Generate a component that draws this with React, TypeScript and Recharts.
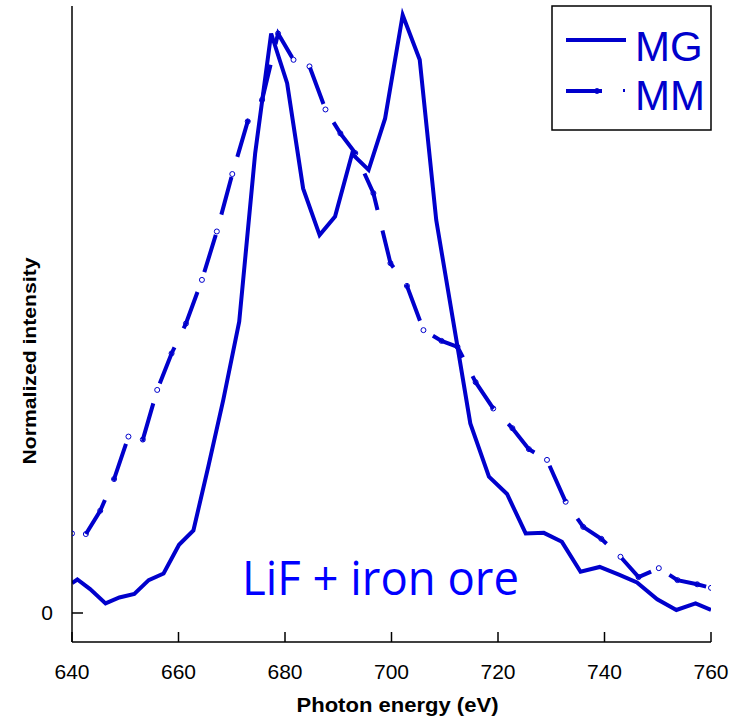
import React from 'react';
import { LineChart, Line, XAxis, YAxis, Legend } from 'recharts';

// photon energy (eV) and normalized intensity
const mgEnergy = [640, 641, 643.4, 646.3, 648.9, 651.7, 654.4, 657.2, 660.1, 662.8, 665.6, 668.4, 671.4, 674.4, 677.4, 680.4, 683.4, 686.5, 689.4, 692.6, 695.7, 698.8, 702.1, 705.3, 708.4, 712.4, 714.8, 718.3, 721.7, 725.2, 728.6, 732.0, 735.5, 739.1, 742.7, 746.1, 749.9, 753.5, 757.1, 760];
const mgIntensity = [0.05, 0.056, 0.04, 0.016, 0.026, 0.032, 0.055, 0.066, 0.114, 0.138, 0.245, 0.356, 0.487, 0.769, 0.969, 0.886, 0.71, 0.632, 0.663, 0.768, 0.741, 0.827, 1.0, 0.925, 0.657, 0.445, 0.317, 0.228, 0.199, 0.133, 0.134, 0.119, 0.069, 0.077, 0.064, 0.051, 0.023, 0.005, 0.016, 0.005];

const mmEnergy = [640, 642.6, 645.3, 647.9, 650.6, 653.3, 656.0, 658.7, 661.4, 664.4, 667.2, 670.1, 673.0, 675.7, 678.7, 681.6, 684.6, 687.6, 690.4, 693.2, 696.6, 699.8, 702.9, 706.0, 709.4, 712.4, 715.8, 719.1, 722.7, 725.8, 729.2, 732.7, 736.0, 739.4, 743.0, 746.4, 750.2, 753.7, 757.4, 760];
const mmIntensity = [0.133, 0.132, 0.171, 0.224, 0.295, 0.29, 0.373, 0.434, 0.484, 0.557, 0.638, 0.734, 0.822, 0.858, 0.969, 0.925, 0.914, 0.842, 0.802, 0.769, 0.702, 0.585, 0.547, 0.473, 0.455, 0.445, 0.386, 0.342, 0.309, 0.274, 0.256, 0.186, 0.144, 0.124, 0.094, 0.06, 0.075, 0.055, 0.048, 0.042];

const xTicks = [640, 660, 680, 700, 720, 740, 760];
const yTicks = [0];

const BLUE = '#0000CC';
const ARIAL = '"Liberation Sans", Arial, sans-serif';

const mgData = mgEnergy.map((x, i) => ({ x, y: mgIntensity[i] }));
const mmData = mmEnergy.map((x, i) => ({ x, y: mmIntensity[i] }));

const LegendBox = () => (
  <svg width={162} height={128} style={{ display: 'block' }}>
    <rect x={1} y={1} width={159} height={124} fill="#fff" stroke="#000" strokeWidth={1.5} />
    <line x1={15} x2={75} y1={35} y2={35} stroke={BLUE} strokeWidth={4} />
    <text x={84} y={56} fontSize={42} fontFamily={ARIAL} fill={BLUE}>MG</text>
    <line x1={15} x2={51} y1={86} y2={86} stroke={BLUE} strokeWidth={4} />
    <circle cx={46} cy={86} r={2.5} fill="none" stroke={BLUE} strokeWidth={1} />
    <rect x={72} y={84} width={2} height={3} fill={BLUE} />
    <text x={84} y={105} fontSize={42} fontFamily={ARIAL} fill={BLUE}>MM</text>
  </svg>
);

const XTitle = (props: any) => {
  const { viewBox } = props;
  return (
    <text x={viewBox.x + viewBox.width / 2 + 6} y={712} textAnchor="middle" fontSize={20} fontWeight="bold"
      fontFamily={ARIAL} fill="#000" textLength={202} lengthAdjust="spacingAndGlyphs">
      Photon energy (eV)
    </text>
  );
};

const YTitle = () => (
  <text x={0} y={0} transform="translate(36, 361) rotate(-90)" textAnchor="middle" fontSize={19}
    fontWeight="bold" fontFamily={ARIAL} fill="#000" textLength={207} lengthAdjust="spacingAndGlyphs">
    Normalized intensity
  </text>
);

export default function App() {
  return (
    <div style={{ position: 'absolute', left: 0, top: 0, width: 742, height: 716, background: '#fff' }}>
      <LineChart width={742} height={716} margin={{ top: 6, right: 31, bottom: 0, left: 12 }}>
        <XAxis
          xAxisId="b"
          type="number"
          dataKey="x"
          domain={[640, 760]}
          ticks={xTicks}
          height={74}
          tickSize={-10}
          tickMargin={32}
          stroke="#000"
          strokeWidth={1.5}
          tick={{ fill: '#000', fontSize: 21, fontFamily: ARIAL }}
          label={<XTitle />}
          allowDataOverflow
        />
        <XAxis xAxisId="t" orientation="top" type="number" domain={[640, 760]} height={0}
          tick={false} tickLine={false} stroke="#000" strokeWidth={1.5} />
        <YAxis
          yAxisId="l"
          type="number"
          domain={[-0.0485, 1.015]}
          ticks={yTicks}
          width={60}
          tickSize={-11}
          tickMargin={30}
          stroke="#000"
          strokeWidth={1.5}
          tick={{ fill: '#000', fontSize: 21, fontFamily: ARIAL }}
          label={<YTitle />}
          allowDataOverflow
        />
        <YAxis
          yAxisId="r"
          orientation="right"
          type="number"
          domain={[-0.0485, 1.015]}
          ticks={yTicks}
          width={0}
          tickSize={-11}
          stroke="#000"
          strokeWidth={1.5}
          tick={() => <g />}
          allowDataOverflow
        />
        <Legend
          layout="horizontal"
          verticalAlign="middle"
          align="center"
          content={() => <LegendBox />}
          wrapperStyle={{ position: 'absolute', left: 551, top: 5, width: 162, height: 128 }}
        />
        <Line
          xAxisId="b"
          yAxisId="l"
          data={mgData}
          dataKey="y"
          name="MG"
          stroke={BLUE}
          strokeWidth={4}
          dot={false}
          type="linear"
          isAnimationActive={false}
        />
        <Line
          xAxisId="b"
          yAxisId="l"
          data={mmData}
          dataKey="y"
          name="MM"
          stroke={BLUE}
          strokeWidth={4}
          strokeDasharray="39 21"
          strokeDashoffset={46}
          dot={{ r: 2.5, fill: 'none', stroke: BLUE, strokeWidth: 1, strokeDasharray: '0' }}
          type="linear"
          isAnimationActive={false}
        />
      </LineChart>
      <svg width={742} height={716} style={{ position: 'absolute', left: 0, top: 0, pointerEvents: 'none' }}>
        <text x={242} y={595} fontSize={48} fontFamily='"Open Sans", sans-serif' fill="#0000FF"
          textLength={277} lengthAdjust="spacingAndGlyphs">
          LiF + iron ore
        </text>
      </svg>
    </div>
  );
}
